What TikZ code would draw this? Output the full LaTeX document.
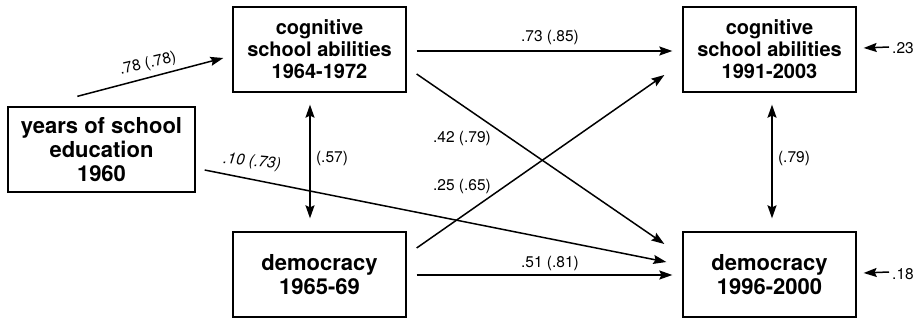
\documentclass[tikz,border=0pt]{standalone}
\usepackage{fontspec}
\setmainfont{TeX Gyre Heros}
\usetikzlibrary{arrows.meta,calc}
\begin{document}
\begin{tikzpicture}[x=1pt,y=-1pt,
  varbox/.style={draw,line width=1.3pt,inner sep=0pt,align=center,font=\bfseries\fontsize{22}{24}\selectfont},
  cogbox/.style={varbox,font=\bfseries\fontsize{20}{22}\selectfont},
  arr/.style={line width=1.5pt,-{Stealth[length=13pt,width=9pt,inset=2pt]}},
  darr/.style={line width=1.5pt,{Stealth[length=13pt,width=9pt,inset=2pt]}-{Stealth[length=13pt,width=9pt,inset=2pt]}},
  coef/.style={inner sep=0pt,font=\fontsize{15.5}{18}\selectfont}]
\useasboundingbox (0,0) rectangle (921,323);
% variables
\node[varbox,minimum width=187pt,minimum height=85pt] (A) at (101.5,149.5) {years of school\\education\\1960};
\node[cogbox,minimum width=173pt,minimum height=85pt] (B) at (319.5,49.5) {cognitive\\school abilities\\1964-1972};
\node[varbox,minimum width=173pt,minimum height=85pt] (C) at (319.5,274.5) {democracy\\1965-69};
\node[cogbox,minimum width=173pt,minimum height=85pt] (D) at (769.5,49.5) {cognitive\\school abilities\\1991-2003};
\node[varbox,minimum width=173pt,minimum height=85pt] (E) at (769.5,274.5) {democracy\\1996-2000};
% residuals
\node[coef,anchor=west] (rD) at (892,48) {.23};
\node[coef,anchor=west] (rE) at (892,274) {.18};
% paths
\draw[arr] ($(A.north west)+(70,-10)$) -- ($(B.west)+(-9,8.5)$);
\draw[darr] ($(B.south)+(-9.5,12)$) -- ($(C.north)+(-9.5,-13)$);
\draw[arr] ($(A.east)+(9,20.5)$) -- ($(E.west)+(-16,-12.5)$);
\draw[arr] ($(B.east)+(10,1.5)$) -- ($(D.west)+(-10,1.5)$);
\draw[arr] ($(B.east)+(10,24.5)$) -- ($(E.west)+(-18,-30.5)$);
\draw[arr] ($(C.east)+(10,-26.5)$) -- ($(D.west)+(-18,25.5)$);
\draw[arr] ($(C.east)+(10,0.5)$) -- ($(E.west)+(-10,0.5)$);
\draw[darr] ($(D.south)+(2.5,12)$) -- ($(E.north)+(2.5,-13)$);
\draw[arr] ($(rD.west)+(-3,-1)$) -- ($(D.east)+(7,-1.5)$);
\draw[arr] ($(rE.west)+(-3,-2)$) -- ($(E.east)+(7,-1.5)$);
% coefficients
\node[coef,rotate=13] (l1) at (148,64) {.78 (.78)};
\node[coef,rotate=-5] (l2) at (252,162) {\itshape .10 (.73)};
\node[coef] (l3) at (332,158) {(.57)};
\node[coef] (l4) at (550,37) {.73 (.85)};
\node[coef] (l5) at (462,138) {.42 (.79)};
\node[coef] (l6) at (462,186) {.25 (.65)};
\node[coef] (l7) at (550,263) {.51 (.81)};
\node[coef] (l8) at (794,158) {(.79)};
\end{tikzpicture}
\end{document}
